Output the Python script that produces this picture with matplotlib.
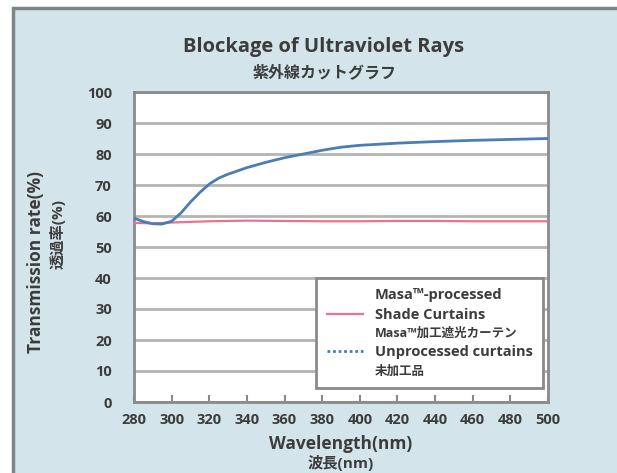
import matplotlib
matplotlib.use("Agg")
import matplotlib.pyplot as plt
from matplotlib.patches import Rectangle
from matplotlib.lines import Line2D

plt.rcParams['font.family'] = ['Open Sans', 'Noto Sans CJK JP', 'DejaVu Sans']

# ---- data ----
wave_blue = [280, 285, 290, 295, 300, 305, 310, 315, 320, 325, 330, 340, 350, 360,
             370, 380, 390, 400, 420, 440, 460, 480, 500]
unprocessed = [59.3, 58.2, 57.5, 57.4, 58.3, 61.0, 64.5, 67.6, 70.3, 72.2, 73.5, 75.6,
               77.3, 78.8, 80.0, 81.2, 82.2, 82.8, 83.5, 84.0, 84.4, 84.7, 85.0]
wave_pink = [280, 290, 300, 320, 340, 360, 380, 400, 420, 440, 460, 480, 500]
masa = [57.8, 57.6, 57.9, 58.3, 58.5, 58.4, 58.3, 58.3, 58.4, 58.4, 58.3, 58.3, 58.3]

x_ticks = list(range(280, 501, 20))
y_ticks = list(range(0, 101, 10))

title = "Blockage of Ultraviolet Rays"
subtitle = "紫外線カットグラフ"
ylabel_en = "Transmission rate(%)"
ylabel_jp = "透過率(%)"
xlabel_en = "Wavelength(nm)"
xlabel_jp = "波長(nm)"
legend_labels = ["Masa™-processed", "Shade Curtains", "Masa™加工遮光カーテン",
                 "Unprocessed curtains", "未加工品"]

# ---- style ----
W, H = 617, 473
txt = "#3c3c3c"
pink = "#e8728f"
blue = "#4a7db6"
grid_c = "#b4b4b4"
spine_c = "#8a8a8a"

fig = plt.figure(figsize=(W / 100, H / 100), dpi=100)
fig.patch.set_facecolor("white")

panel = Rectangle((13 / W, -0.05), 1.2, 1 - 8 / H + 0.05, transform=fig.transFigure,
                  facecolor="#d3e5eb", edgecolor="#7f8486", linewidth=2.5, zorder=-10)
fig.patches.append(panel)

ax = fig.add_axes([134 / W, 1 - 402 / H, (548 - 134) / W, (402 - 92) / H])
ax.set_facecolor("white")

ax.plot(wave_pink, masa, color=pink, lw=1.6, zorder=3)
ax.plot(wave_blue, unprocessed, color=blue, lw=2.0, zorder=4)

ax.set_xlim(280, 500)
ax.set_ylim(0, 100)
ax.set_xticks(x_ticks)
ax.set_yticks(y_ticks)
ax.yaxis.grid(True, color=grid_c, lw=2.0, zorder=1)
ax.set_axisbelow(True)
ax.tick_params(axis='x', direction='in', length=5, width=1.5, color=spine_c,
               labelsize=10.5, labelcolor=txt, pad=8)
ax.tick_params(axis='y', length=0, labelsize=10.5, labelcolor=txt, pad=16)
for lab in ax.get_xticklabels() + ax.get_yticklabels():
    lab.set_fontweight('bold')
for s in ax.spines.values():
    s.set_color(spine_c)
    s.set_linewidth(2.0)

# titles
fig.text(324 / W, 1 - 47 / H, title, ha='center', va='center', fontsize=14.5,
         fontweight='bold', color=txt)
fig.text(324 / W, 1 - 73 / H, subtitle, ha='center', va='center', fontsize=11.5,
         fontweight='bold', color=txt)

# axis labels
fig.text(36 / W, 1 - 262 / H, ylabel_en, rotation=90, ha='center', va='center',
         fontsize=12.5, fontweight='bold', color=txt)
fig.text(58 / W, 1 - 234 / H, ylabel_jp, rotation=90, ha='center', va='center',
         fontsize=11, fontweight='bold', color=txt)
fig.text(341 / W, 1 - 444 / H, xlabel_en, ha='center', va='center',
         fontsize=12.5, fontweight='bold', color=txt)
fig.text(341 / W, 1 - 463 / H, xlabel_jp, ha='center', va='center',
         fontsize=11, fontweight='bold', color=txt)

# legend
empty = Line2D([], [], color='none')
handles = [empty,
           Line2D([], [], color=pink, lw=1.6),
           empty,
           Line2D([], [], color=blue, lw=2.0, ls=(0, (1, 1))),
           empty]
leg = ax.legend(handles, legend_labels, loc='upper left',
                bbox_to_anchor=((316 - 134) / 414, (402 - 278) / 310),
                borderaxespad=0, frameon=True, fancybox=False, framealpha=1,
                edgecolor=spine_c, handlelength=2.5, handletextpad=0.8,
                labelspacing=0.36, borderpad=0.72, prop={'size': 10.5, 'weight': 'bold'})
leg.get_frame().set_linewidth(2.0)
leg.set_zorder(5)
for i, t in enumerate(leg.get_texts()):
    t.set_color(txt)
    if i in (2, 4):
        t.set_fontsize(9)

fig.savefig("out.png", dpi=100)
